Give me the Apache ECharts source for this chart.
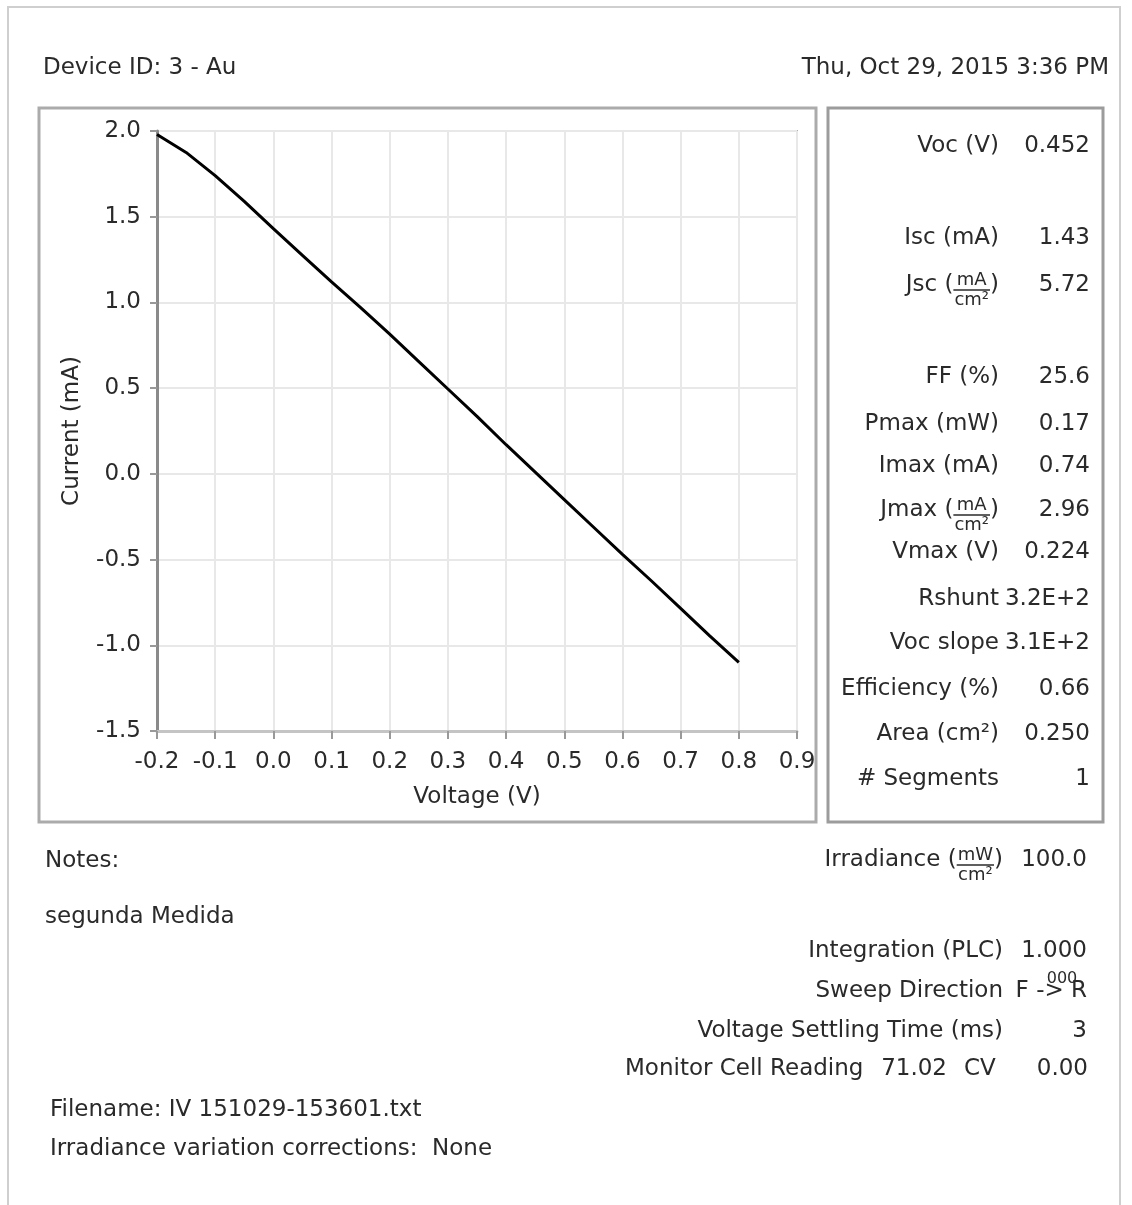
<!DOCTYPE html>
<html>
<head>
<meta charset="utf-8">
<script src="https://cdn.jsdelivr.net/npm/echarts@6/dist/echarts.min.js"></script>
<style>
html,body{margin:0;padding:0;background:#fff;}
#chart{width:1132px;height:1205px;}
</style>
</head>
<body>
<div id="chart"></div>
<script>
// ---- data ----
var voltage = [-0.2,-0.15,-0.1,-0.05,0.0,0.05,0.1,0.15,0.2,0.25,0.3,0.35,0.4,0.45,0.5,0.55,0.6,0.65,0.7,0.75,0.8];
var current = [1.98,1.875,1.74,1.59,1.43,1.275,1.12,0.97,0.815,0.655,0.495,0.335,0.17,0.01,-0.15,-0.31,-0.47,-0.625,-0.785,-0.945,-1.10];
var xTicks = {min:-0.2, max:0.9, interval:0.1};
var yTicks = {min:-1.5, max:2.0, interval:0.5};
var xTitle = 'Voltage (V)';
var yTitle = 'Current (mA)';
var deviceId = 'Device ID: 3 - Au';
var dateText = 'Thu, Oct 29, 2015 3:36 PM';
var statLabels = ['Voc (V)','Isc (mA)','Jsc (mA/cm²)','FF (%)','Pmax (mW)','Imax (mA)','Jmax (mA/cm²)','Vmax (V)','Rshunt','Voc slope','Efficiency (%)','Area (cm²)','# Segments'];
var statValues = ['0.452','1.43','5.72','25.6','0.17','0.74','2.96','0.224','3.2E+2','3.1E+2','0.66','0.250','1'];
var settingLabels = ['Irradiance (mW/cm²)','Integration (PLC)','Sweep Direction','Voltage Settling Time (ms)'];
var settingValues = ['100.0','1.000','F -> R','3'];
var monitorLabel = 'Monitor Cell Reading';
var monitorValue = '71.02';
var cvLabel = 'CV';
var cvValue = '0.00';
var notesLabel = 'Notes:';
var notesText = 'segunda Medida';
var fileText = 'Filename: IV 151029-153601.txt';
var corrText = 'Irradiance variation corrections:  None';

// ---- layout ----
var FAM = '"DejaVu Sans", Verdana, sans-serif';
var FS = 23;
var TXT = '#2a2a2a';
var statRowY = [146,238,285,377,424,466,510,552,599,643,689,734,779];
var statLabelRight = 999, statValueRight = 1090;
var settingRowY = [860,951,991,1031];
var settingLabelRight = 1003, settingValueRight = 1087;

var cv = document.createElement('canvas').getContext('2d');
function measure(t, size){ cv.font = size + 'px ' + FAM; return cv.measureText(t).width; }
function txt(t, x, y, align, size, color){
  return {type:'text', z:10, style:{text:t, x:x, y:y, fill:color||TXT, font:(size||FS)+'px '+FAM, align:align||'left', verticalAlign:'middle'}};
}
// label possibly with a fraction "Name (num/den)"
function labelEls(label, rightX, y){
  var m = label.match(/^(.*\()([^\/]+)\/([^\)]+)\)$/);
  if(!m) return [txt(label, rightX, y, 'right')];
  var fs = 18;
  var els = [];
  var pw = measure(')', FS);
  els.push(txt(')', rightX, y, 'right'));
  var fw = Math.max(measure(m[2], fs), measure(m[3], fs)) + 2;
  var cx = rightX - pw - fw/2;
  els.push(txt(m[2], cx, y-5, 'center', fs));
  els.push(txt(m[3], cx, y+15, 'center', fs));
  els.push({type:'line', z:10, shape:{x1:cx-fw/2, y1:y+5, x2:cx+fw/2, y2:y+5}, style:{stroke:TXT, lineWidth:1.5}});
  els.push(txt(m[1], cx-fw/2, y, 'right'));
  return els;
}

var graphics = [];
// frames
graphics.push({type:'rect', z:1, shape:{x:8,y:7,width:1112,height:1215}, style:{fill:null, stroke:'#cfcfcf', lineWidth:2}});
graphics.push({type:'rect', z:1, shape:{x:39,y:108,width:777,height:714}, style:{fill:null, stroke:'#ababab', lineWidth:3}});
graphics.push({type:'rect', z:1, shape:{x:828,y:108,width:275,height:714}, style:{fill:null, stroke:'#9c9c9c', lineWidth:3}});
// header
graphics.push(txt(deviceId, 43, 68, 'left'));
graphics.push(txt(dateText, 1109, 68, 'right'));
// stats panel
for (var i=0;i<statLabels.length;i++){
  graphics = graphics.concat(labelEls(statLabels[i], statLabelRight, statRowY[i]));
  graphics.push(txt(statValues[i], statValueRight, statRowY[i], 'right'));
}
// settings
for (var j=0;j<settingLabels.length;j++){
  graphics = graphics.concat(labelEls(settingLabels[j], settingLabelRight, settingRowY[j]));
  graphics.push(txt(settingValues[j], settingValueRight, settingRowY[j], 'right'));
}
graphics.push(txt('000', 1062, 979, 'center', 16));
graphics.push(txt(monitorLabel, 625, 1069, 'left'));
graphics.push(txt(monitorValue, 947, 1069, 'right'));
graphics.push(txt(cvLabel, 964, 1069, 'left'));
graphics.push(txt(cvValue, 1088, 1069, 'right'));
// notes / footer
graphics.push(txt(notesLabel, 45, 861, 'left'));
graphics.push(txt(notesText, 45, 917, 'left'));
graphics.push(txt(fileText, 50, 1110, 'left'));
graphics.push(txt(corrText, 50, 1149, 'left'));

function fmt(v){ if (Math.abs(v) < 1e-9) v = 0; return v.toFixed(1); }

var chart = echarts.init(document.getElementById('chart'), null, {renderer:'canvas'});
chart.setOption({
  animation:false,
  backgroundColor:'#ffffff',
  grid:{left:157, right:335, top:131, bottom:474, show:true, borderColor:'#b0b0b0', borderWidth:2, backgroundColor:'#ffffff'},
  xAxis:{
    type:'value', min:xTicks.min, max:xTicks.max, interval:xTicks.interval,
    name:xTitle, nameLocation:'middle', nameGap:55,
    nameTextStyle:{fontFamily:FAM, fontSize:FS, color:TXT},
    axisLine:{show:true, onZero:false, lineStyle:{color:'#c4c4c4', width:3}},
    axisTick:{show:true, length:8, lineStyle:{color:'#999999', width:2}},
    axisLabel:{formatter:fmt, fontFamily:FAM, fontSize:FS, color:TXT, margin:20},
    splitLine:{show:true, lineStyle:{color:'#e8e8e8', width:2}}
  },
  yAxis:{
    type:'value', min:yTicks.min, max:yTicks.max, interval:yTicks.interval,
    name:yTitle, nameLocation:'middle', nameGap:73, nameRotate:90,
    nameTextStyle:{fontFamily:FAM, fontSize:FS, color:TXT},
    axisLine:{show:true, onZero:false, lineStyle:{color:'#8a8a8a', width:3}},
    axisTick:{show:true, length:7, lineStyle:{color:'#999999', width:2}},
    axisLabel:{formatter:fmt, fontFamily:FAM, fontSize:FS, color:TXT, margin:16},
    splitLine:{show:true, lineStyle:{color:'#e8e8e8', width:2}}
  },
  series:[{
    type:'line', data:voltage.map(function(v,k){return [v, current[k]];}),
    showSymbol:false, symbol:'none', smooth:false,
    lineStyle:{color:'#000000', width:3}
  }],
  graphic:{elements:graphics}
});
</script>
</body>
</html>
